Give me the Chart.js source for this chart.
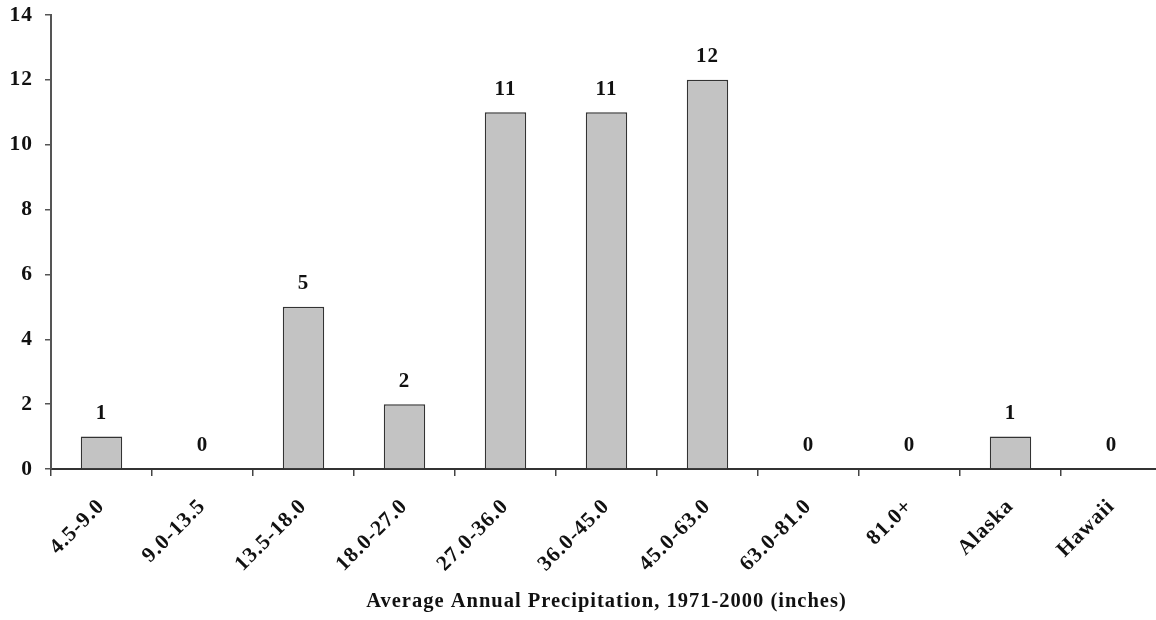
<!DOCTYPE html>
<html>
<head>
<meta charset="utf-8">
<script src="https://cdn.jsdelivr.net/npm/chart.js@4.4.1/dist/chart.umd.min.js"></script>
<style>
    html, body { margin: 0; padding: 0; background: #fff; overflow: hidden; }
    #wrap { width: 1164px; height: 620px; }
</style>
</head>
<body>
<div id="wrap"><canvas id="precipChart" width="1164" height="620"></canvas></div>
<script>
// Categories and counts
const categories = ['4.5-9.0', '9.0-13.5', '13.5-18.0', '18.0-27.0', '27.0-36.0', '36.0-45.0',
    '45.0-63.0', '63.0-81.0', '81.0+', 'Alaska', 'Hawaii'];
const counts = [1, 0, 5, 2, 11, 11, 12, 0, 0, 1, 0];
const yTicks = [0, 2, 4, 6, 8, 10, 12, 14];

const serif = '"Liberation Serif", "Times New Roman", serif';

// The original's lettering is set wide, so spread the glyphs a little
const wideText = {
    id: 'wideText',
    beforeUpdate(chart) { chart.ctx.letterSpacing = '1px'; },
    beforeDraw(chart) { chart.ctx.letterSpacing = '1px'; }
};

// Draw the count above each bar
const valueLabels = {
    id: 'valueLabels',
    afterDatasetsDraw(chart) {
        const ctx = chart.ctx;
        const meta = chart.getDatasetMeta(0);
        ctx.save();
        ctx.font = 'bold 21px ' + serif;
        ctx.fillStyle = '#111';
        ctx.textAlign = 'center';
        ctx.textBaseline = 'middle';
        meta.data.forEach((bar, i) => {
            ctx.fillText(String(counts[i]), bar.x, bar.y - 23);
        });
        ctx.restore();
    }
};

const ctx = document.getElementById('precipChart').getContext('2d');
window.precipChart = new Chart(ctx, {
    type: 'bar',
    data: {
        labels: categories,
        datasets: [{
            data: counts,
            backgroundColor: '#c3c3c3',
            borderColor: '#333',
            borderWidth: 1.5,
            barPercentage: 0.41,
            categoryPercentage: 1
        }]
    },
    options: {
        responsive: false,
        animation: false,
        layout: { padding: { left: 0, top: 15, right: 2, bottom: 0 } },
        plugins: {
            legend: { display: false },
            tooltip: { enabled: false }
        },
        scales: {
            x: {
                offset: true,
                grid: {
                    offset: true,
                    drawOnChartArea: false,
                    tickLength: 7,
                    color: '#444',
                    lineWidth: 1.5
                },
                border: { color: '#333', width: 2 },
                ticks: {
                    minRotation: 45,
                    maxRotation: 45,
                    padding: 18,
                    color: '#111',
                    font: { family: serif, size: 21.5, weight: 'bold' }
                },
                title: {
                    display: true,
                    text: 'Average Annual Precipitation, 1971-2000 (inches)',
                    color: '#111',
                    font: { family: serif, size: 20.5, weight: 'bold' },
                    padding: { top: 4, bottom: 6 }
                },
                afterFit(scale) { scale.height = 620 - 469; }
            },
            y: {
                min: 0,
                max: 14,
                afterBuildTicks(scale) {
                    scale.ticks = yTicks.map(v => ({ value: v }));
                },
                grid: {
                    drawOnChartArea: false,
                    tickLength: 6,
                    color: '#555',
                    lineWidth: 1.5
                },
                border: { color: '#555', width: 2 },
                ticks: {
                    padding: 12,
                    color: '#111',
                    font: { family: serif, size: 21.5, weight: 'bold' }
                },
                afterFit(scale) {
                    scale.width = 51;
                    scale.paddingTop = 0;
                    scale.paddingBottom = 0;
                }
            }
        }
    },
    plugins: [wideText, valueLabels]
});
</script>
</body>
</html>
